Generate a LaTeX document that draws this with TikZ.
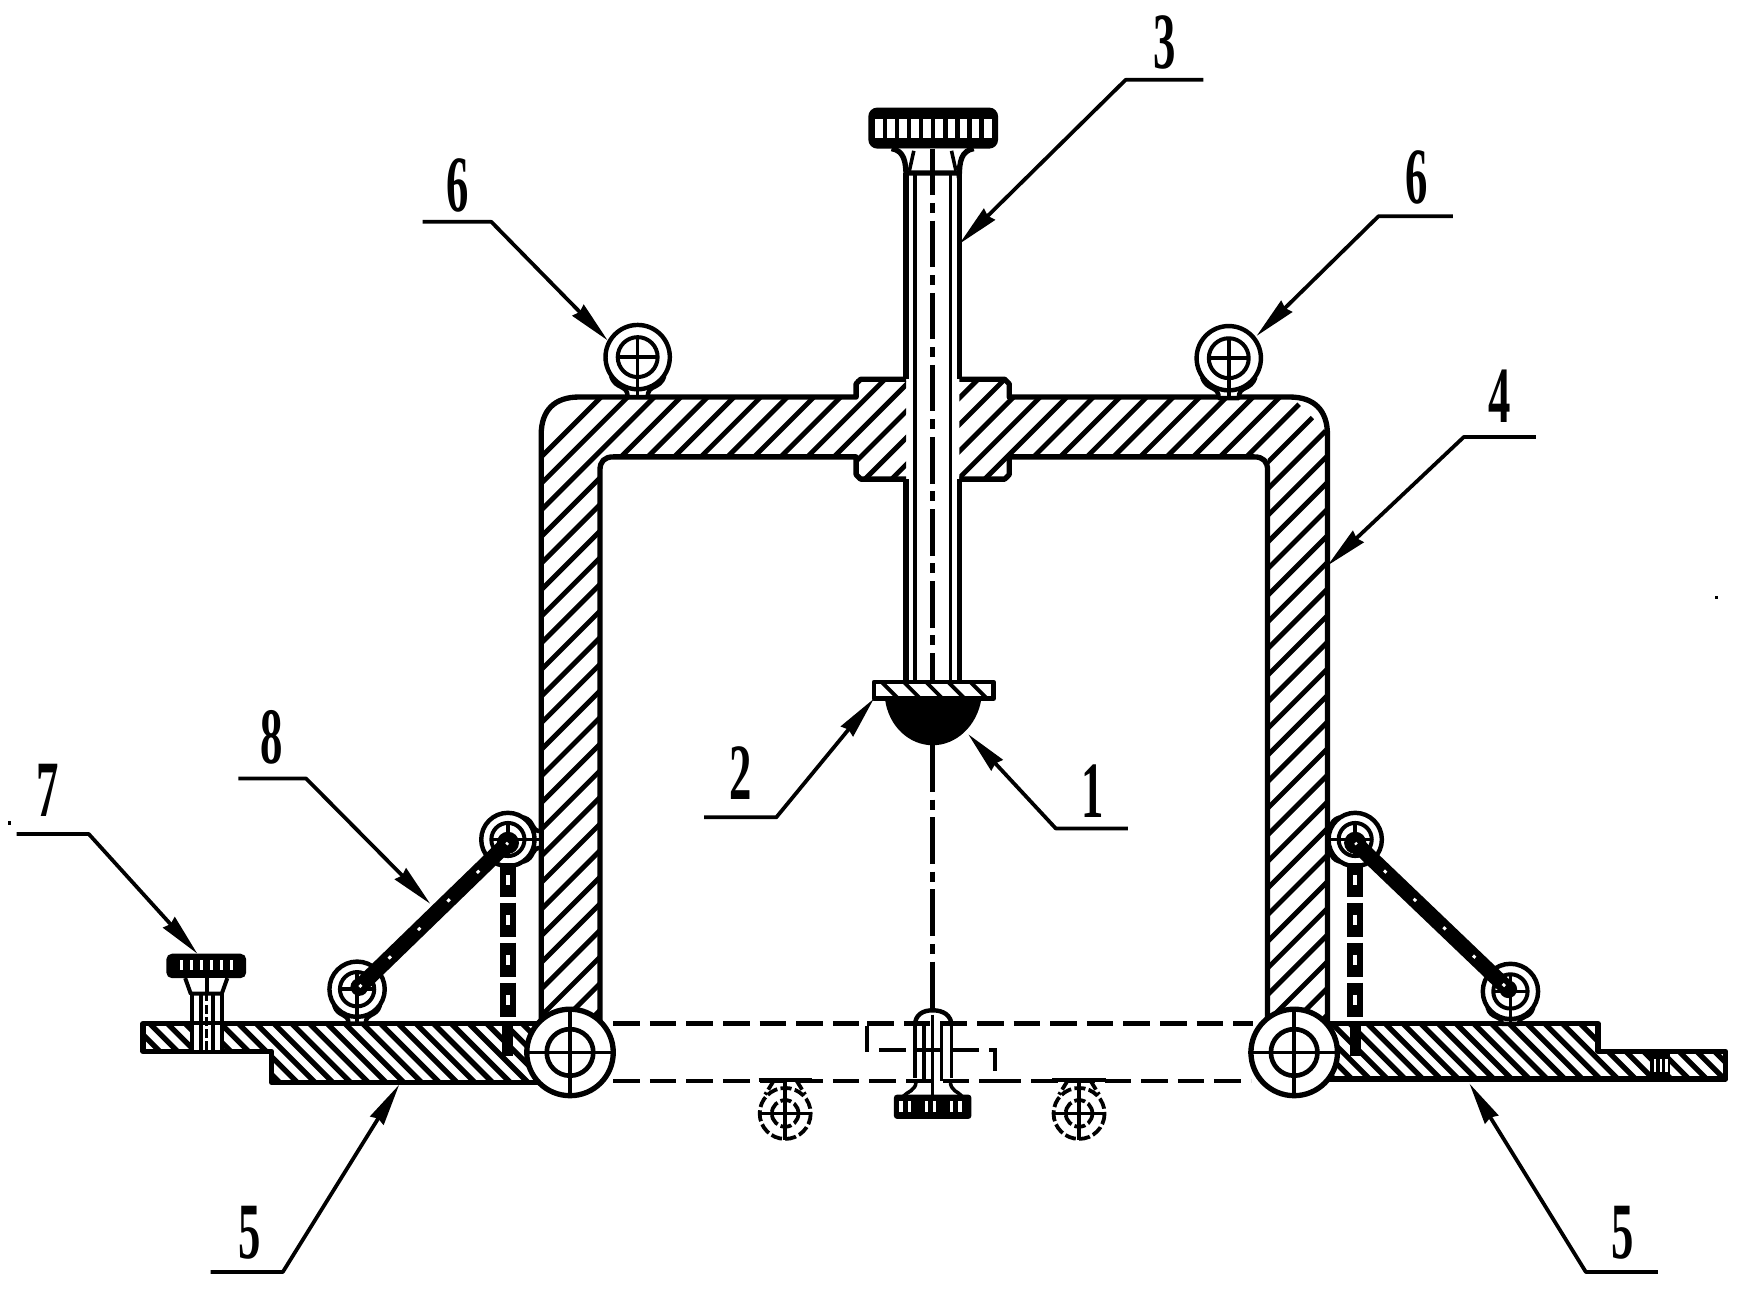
\documentclass[tikz,border=0pt]{standalone}
\usepackage{fontspec}
\setmainfont{Liberation Serif}
\usetikzlibrary{arrows.meta}
\tikzset{
  main/.style={line width=4.8pt,line join=round},
  thinl/.style={line width=3.2pt},
  leaderline/.style={line width=3.4pt,line join=round,-{Stealth[length=38pt,width=14pt,inset=2pt]}},
  hatchup/.style={line width=4.4pt},
  hatchdn/.style={line width=4.8pt},
  ghost/.style={line width=4pt,dash pattern=on 24pt off 9pt},
  ghostb/.style={line width=3.4pt,dash pattern=on 10pt off 3pt},
  centerl/.style={line width=4pt,dash pattern=on 42pt off 7pt on 9pt off 7pt},
  numlabel/.style={font=\fontsize{72}{72}\selectfont\bfseries,xscale=.56,inner sep=0pt}
}
\newcommand{\partleader}[6]{%
  \node[numlabel] (n#1) at (#3) {#2};
  \coordinate (s#1) at (#4);
  \coordinate (k#1) at (#5);
  \coordinate (t#1) at (#6);
  \draw[leaderline] (s#1) -- (k#1) -- (t#1);
}
\newcommand{\eyeb}[5]{%
  \begin{scope}[shift={(#1,#2)},rotate=#3,scale=#4]
    \draw[main,line width=4pt,fill=white] (-24,17) .. controls (-20,30) and (-9,24) .. (-9,#5) -- (9,#5) .. controls (9,24) and (20,30) .. (24,17);
    \draw[main,line width=4pt,fill=white] (0,0) circle (29);
    \draw[main,line width=3.6pt] (0,0) circle (18);
    \draw[thinl] (-18,0) -- (18,0) (0,-18) -- (0,#5);
  \end{scope}}
\newcommand{\ghosteye}[2]{%
  \begin{scope}[shift={(#1,#2)}]
    \draw[ghostb] (0,0) circle (23);
    \draw[ghostb] (0,0) circle (12);
    \draw[thinl] (-23,0) -- (23,0) (0,-30) -- (0,24);
    \draw[ghostb] (-10,-30) -- (-18,-17) (10,-30) -- (18,-17);
    \draw[thinl] (-24,-30) -- (24,-30);
  \end{scope}}
\newcommand{\rodchain}[5]{%
  \draw[line width=14pt] (#1,#2) -- (#3,#4);
  \fill (#1,#2) circle (10);
  \fill (#3,#4) circle (8);
  \draw[white,line width=2.6pt,dash pattern=on 3pt off 34pt,dash phase=-36pt] (#1,#2) -- (#3,#4);
  \draw[line width=14pt,dash pattern=on 31pt off 5pt] (#5,778) -- (#5,925);
  \draw[white,line width=3.4pt,dash pattern=on 9pt off 27pt,dash phase=-11pt] (#5,778) -- (#5,925);
  \draw[line width=10pt] (#5,925) -- (#5,952);}
\begin{document}
\begin{tikzpicture}[x=1pt,y=-1pt]
\useasboundingbox (0,0) rectangle (1569,1165);
\fill[white] (0,0) rectangle (1569,1165);

% frame, left half
\begin{scope}
  \clip (488,930) -- (488,390) -- (520,358) -- (772,358) -- (772,342) -- (817,342) -- (817,432) -- (772,432) -- (772,412) -- (541,412) -- (541,930) -- cycle;
  \foreach \s in {900,924,...,1500} \draw[hatchup] (\s-100,100) -- (\s-1100,1100);
\end{scope}
\draw[main] (488,930) -- (488,392) .. controls (488,370) and (500,358) .. (522,358) -- (772,358) -- (772,346) -- (776,342) -- (817,342);
\draw[main] (817,432) -- (776,432) -- (772,428) -- (772,412) -- (553,412) .. controls (545,412) and (541,416) .. (541,424) -- (541,930);
% frame, right half
\begin{scope}
  \clip (865,342) -- (910,342) -- (910,358) -- (1165,358) -- (1197,390) -- (1197,930) -- (1143,930) -- (1143,412) -- (910,412) -- (910,432) -- (865,432) -- cycle;
  \foreach \s in {1200,1224,...,2200} \draw[hatchup] (\s-100,100) -- (\s-1100,1100);
\end{scope}
\draw[main] (865,342) -- (906,342) -- (910,346) -- (910,358) -- (1163,358) .. controls (1185,358) and (1197,370) .. (1197,392) -- (1197,930);
\draw[main] (865,432) -- (906,432) -- (910,428) -- (910,412) -- (1131,412) .. controls (1139,412) and (1143,416) .. (1143,424) -- (1143,930);

% upper knob
\fill[rounded corners=8pt] (783,97) rectangle (900,134);
\foreach \i in {0,...,9} \fill[white] (789+10.9*\i,107) rectangle (796+10.9*\i,124);
\draw[main,fill=white] (804,134) .. controls (815,136) and (817,145) .. (817,160) -- (817,156) -- (865,156) -- (865,160) .. controls (865,145) and (867,136) .. (878,134);
\draw[thinl] (824,136) -- (820,154) (858,136) -- (862,154);
% shaft
\draw[main] (817,156) -- (817,342) (865,156) -- (865,342) (817,432) -- (817,615) (865,432) -- (865,615);
\draw[thinl] (825,156) -- (825,615) (857,156) -- (857,615);
\draw[centerl] (841,134) -- (841,615);
% lower plate and ball
\begin{scope}
  \clip (788,615) rectangle (896,630);
  \foreach \s in {-200,-180,...,300} \draw[line width=3.4pt] (\s+600,600) -- (\s+650,650);
\end{scope}
\draw[main,line width=4pt] (788,615) rectangle (896,630);
\fill (798,630) .. controls (801,655) and (820,672) .. (841,672) .. controls (862,672) and (881,655) .. (885,630) -- cycle;
\draw[centerl] (841,672) -- (841,912);

% ghost (swung-in) outline
\draw[ghost] (553,923) -- (782,923) -- (782,947) -- (897,947) -- (897,975) -- (1128,975);
\draw[ghost] (553,975) -- (897,975);
\draw[ghost] (782,923) -- (1130,923);
% ghost knob
\draw[line width=4pt] (825,925) .. controls (825,915) and (832,911) .. (841,911) .. controls (850,911) and (858,915) .. (858,925);
\draw[thinl] (825,925) -- (825,972) (858,925) -- (858,972) (833,925) -- (833,975) (841,915) -- (841,990) (849,925) -- (849,975);
\draw[thinl] (826,975) .. controls (826,984) and (818,984) .. (814,989) (857,975) .. controls (857,984) and (864,984) .. (868,989);
\fill[rounded corners=3pt] (806,987) rectangle (876,1009);
\foreach \i in {0,1,3,4,6,7} \fill[white] (811+7.6*\i,993) rectangle (814+7.6*\i,1003);
\ghosteye{708}{1004}
\ghosteye{973}{1004}

% left plate
\begin{scope}
  \clip (129,923) -- (490,923) -- (490,976) -- (245,976) -- (245,948) -- (129,948) -- cycle;
  \foreach \s in {-900,-884,...,-350} \draw[hatchdn] (\s+900,900) -- (\s+1100,1100);
\end{scope}
\draw[main] (490,923) -- (129,923) -- (129,948) -- (245,948) -- (245,976) -- (490,976);
% right plate
\begin{scope}
  \clip (1195,923) -- (1441,923) -- (1441,948) -- (1556,948) -- (1556,973) -- (1195,973) -- cycle;
  \foreach \s in {150,166,...,700} \draw[hatchdn] (\s+900,900) -- (\s+1100,1100);
\end{scope}
\draw[main] (1195,923) -- (1441,923) -- (1441,948) -- (1556,948) -- (1556,973) -- (1195,973);
\fill (1488,950) rectangle (1506,971);
\foreach \i in {0,1,2} \fill[white] (1491+5.4*\i,955) rectangle (1493+5.4*\i,967);

% small knob 7
\fill[white] (174,924) rectangle (199,947);
\draw[thinl] (173,895) -- (173,948) (200,895) -- (200,948) (181,895) -- (181,948) (192,895) -- (192,948);
\draw[line width=3pt,dash pattern=on 8pt off 3pt] (186.5,895) -- (186.5,948);
\fill[rounded corners=5pt] (150,860) rectangle (222,882);
\foreach \i in {0,...,5} \fill[white] (162+9*\i,866) rectangle (165+9*\i,875);
\draw[main,line width=3.6pt,fill=white] (167,882) -- (172,896) -- (200,896) -- (205,882);
\draw[thinl] (186.5,882) -- (186.5,896);

% eye bolts
\eyeb{575}{322}{0}{1}{36}
\eyeb{1108}{323}{0}{1}{36}
\eyeb{458}{757}{90}{.83}{36}
\eyeb{1222}{757}{-90}{.83}{30}
\eyeb{322}{892}{0}{.86}{36}
\eyeb{1362}{894}{0}{.86}{34}

% links and chains
\rodchain{458}{760}{324}{890}{458}
\rodchain{1222}{760}{1360}{892}{1222}

% hinge pins
\foreach \cx/\cy/\nm in {514/949/hl,1167/949/hr}{
  \node[draw,fill=white,line width=4.8pt,circle,minimum size=78pt,inner sep=0pt] (\nm) at (\cx,\cy) {};
  \draw[main,line width=4.2pt] (\nm.center) circle (21);
  \draw[thinl] (\nm.west) -- (\nm.east) (\nm.north) -- (\nm.south);
}

% item leaders
\partleader{a}{3}{1050,38}{1085,72}{1015,72}{865,220}
\partleader{b}{6}{413,167}{381,200}{443,200}{548,307}
\partleader{c}{6}{1277,160}{1310,195}{1243,195}{1133,303}
\partleader{d}{4}{1352,357}{1385,394}{1320,394}{1197,510}
\partleader{e}{8}{245,665}{215,702}{276,702}{388,815}
\partleader{f}{7}{43,713}{15,752}{80,752}{178,860}
\partleader{g}{2}{668,697}{635,737}{700,737}{788,630}
\partleader{h}{1}{985,713}{1017,747}{952,747}{873,662}
\partleader{i}{5}{225,1112}{190,1147}{255,1147}{360,978}
\partleader{j}{5}{1463,1112}{1495,1147}{1430,1147}{1325,977}

% specks
\fill (7,740) rectangle (10,744);
\fill (1546,537) rectangle (1549,540);
\end{tikzpicture}
\end{document}
